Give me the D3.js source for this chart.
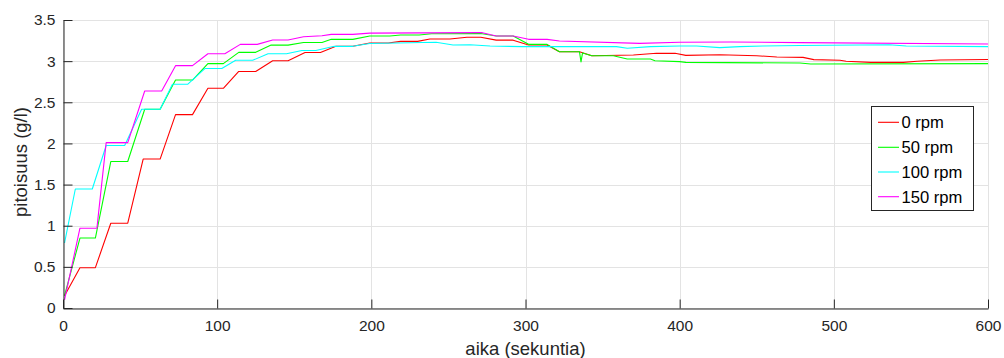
<!DOCTYPE html>
<html>
<head>
<meta charset="utf-8">
<script src="https://cdn.jsdelivr.net/npm/d3@7"></script>
<style>
  html, body { margin: 0; padding: 0; background: #fff; }
  svg { display: block; font-family: "Liberation Sans", Arial, Helvetica, sans-serif; }
</style>
</head>
<body>
<svg id="chart" width="1004" height="358"></svg>
<script>
// ---------- data ----------
const seriesNames = ["0 rpm", "50 rpm", "100 rpm", "150 rpm"];
const seriesColors = ["#ff0000", "#00ff00", "#00ffff", "#ff00ff"];

const t0 = [1, 11, 21, 31, 42, 52, 63, 73, 84, 94, 104, 114, 125, 136, 146, 157, 167, 177, 188, 199, 211, 219, 230, 238, 251, 262, 271, 281, 292, 302, 314, 322, 335, 343, 370, 385, 397, 404, 426, 450, 463, 480, 487, 504, 508, 524, 545, 554, 569, 600];
const c0 = [0.15, 0.49, 0.49, 1.03, 1.03, 1.81, 1.81, 2.35, 2.35, 2.67, 2.67, 2.875, 2.875, 3.005, 3.005, 3.105, 3.105, 3.18, 3.18, 3.22, 3.22, 3.24, 3.24, 3.27, 3.27, 3.29, 3.29, 3.255, 3.255, 3.196, 3.196, 3.115, 3.115, 3.066, 3.075, 3.095, 3.095, 3.07, 3.078, 3.066, 3.05, 3.046, 3.018, 3.01, 2.998, 2.985, 2.985, 2.998, 3.013, 3.02];

const t50 = [1, 11, 21, 31, 42, 53, 63, 73, 84, 94, 104, 114, 125, 135, 146, 156, 168, 174, 188, 199, 212, 219, 231, 239, 271, 281, 292, 302, 314, 322, 335, 336, 337, 343, 357, 366, 381, 384, 400, 404, 478, 485, 600];
const c50 = [0.15, 0.85, 0.85, 1.78, 1.78, 2.415, 2.415, 2.77, 2.77, 2.97, 2.97, 3.107, 3.107, 3.195, 3.195, 3.227, 3.227, 3.265, 3.265, 3.305, 3.305, 3.318, 3.318, 3.333, 3.335, 3.305, 3.305, 3.204, 3.204, 3.115, 3.115, 2.99, 3.10, 3.066, 3.066, 3.026, 3.026, 3.005, 2.994, 2.985, 2.977, 2.965, 2.97];

const t100 = [1, 8, 19, 28, 40, 51, 63, 71, 81, 92, 103, 112, 123, 133, 145, 155, 164, 176, 188, 199, 242, 253, 264, 277, 298, 359, 366, 381, 400, 411, 426, 439, 454, 478, 536, 547, 600];
const c100 = [0.79, 1.446, 1.446, 1.975, 1.975, 2.415, 2.415, 2.72, 2.72, 2.91, 2.91, 3.01, 3.01, 3.09, 3.09, 3.13, 3.13, 3.18, 3.18, 3.215, 3.23, 3.196, 3.2, 3.184, 3.176, 3.176, 3.156, 3.176, 3.184, 3.184, 3.164, 3.176, 3.184, 3.19, 3.2, 3.184, 3.176];

const t150 = [1, 11, 22, 28, 42, 53, 64, 73, 84, 94, 105, 115, 126, 136, 146, 156, 168, 174, 188, 199, 270, 272, 281, 292, 302, 314, 322, 374, 400, 433, 478, 600];
const c150 = [0.1, 0.97, 0.97, 2.01, 2.01, 2.637, 2.637, 2.945, 2.945, 3.09, 3.09, 3.204, 3.204, 3.257, 3.257, 3.297, 3.309, 3.325, 3.325, 3.34, 3.346, 3.346, 3.305, 3.305, 3.265, 3.265, 3.244, 3.216, 3.229, 3.233, 3.225, 3.208];

const xTicks = [0, 100, 200, 300, 400, 500, 600];
const yTicks = [0, 0.5, 1, 1.5, 2, 2.5, 3, 3.5];
const yTickLabels = ["0", "0.5", "1", "1.5", "2", "2.5", "3", "3.5"];
const xLabel = "aika (sekuntia)";
const yLabel = "pitoisuus (g/l)";

// ---------- layout ----------
const svg = d3.select("#chart");
const L = 63, R = 988, T = 20, B = 308;
const x = d3.scaleLinear().domain([0, 600]).range([L, R]);
const y = d3.scaleLinear().domain([0, 3.5]).range([B, T]);

svg.append("rect").attr("width", 1004).attr("height", 358).attr("fill", "#fff");

// grid
const grid = svg.append("g").attr("stroke", "#e3e3e3").attr("stroke-width", 1).attr("shape-rendering", "crispEdges");
grid.selectAll("line.gx").data(xTicks).join("line")
  .attr("x1", d => Math.round(x(d)) + 0.5).attr("x2", d => Math.round(x(d)) + 0.5)
  .attr("y1", T).attr("y2", B);
grid.selectAll("line.gy").data(yTicks).join("line")
  .attr("x1", L).attr("x2", R + 0.5)
  .attr("y1", d => Math.round(y(d)) + 0.5).attr("y2", d => Math.round(y(d)) + 0.5);

// data lines
const series = [[t0, c0], [t50, c50], [t100, c100], [t150, c150]];
const line = d3.line().x(d => x(d[0])).y(d => y(d[1]));
series.forEach((s, i) => {
  const pts = s[0].map((t, k) => [t, s[1][k]]);
  svg.append("path").datum(pts)
    .attr("fill", "none")
    .attr("stroke", seriesColors[i])
    .attr("stroke-width", 1.1)
    .attr("stroke-linejoin", "round")
    .attr("d", line);
});

// axes
const axisColor = "#262626";
const xAxis = d3.axisBottom(x).tickValues(xTicks).tickSizeInner(-9).tickSizeOuter(0).tickPadding(18);
const gx = svg.append("g").attr("transform", `translate(0,${B + 0.5})`).call(xAxis);
const yAxis = d3.axisLeft(y).tickValues(yTicks).tickFormat((d, i) => yTickLabels[i]).tickSizeInner(-9).tickSizeOuter(0).tickPadding(17);
const gy = svg.append("g").attr("transform", `translate(${L + 0.5},0)`).call(yAxis);
[gx, gy].forEach(g => {
  g.select(".domain").attr("stroke", axisColor);
  g.selectAll(".tick line").attr("stroke", axisColor);
  g.selectAll(".tick text").attr("fill", axisColor).attr("font-size", "15.5px")
    .attr("font-family", "'Liberation Sans', Arial, sans-serif");
});
gx.selectAll(".tick text").attr("dy", "0.71em").attr("y", 11);
gy.selectAll(".tick text").attr("x", -8);

// labels
svg.append("text").attr("x", (L + R) / 2).attr("y", 355)
  .attr("text-anchor", "middle").attr("fill", axisColor).attr("font-size", "18.5px")
  .text(xLabel);
svg.append("text").attr("transform", `translate(27,162) rotate(-90)`)
  .attr("text-anchor", "middle").attr("fill", axisColor).attr("font-size", "18.5px")
  .text(yLabel);

// legend
const lg = svg.append("g");
lg.append("rect").attr("x", 871.5).attr("y", 106.5).attr("width", 102).attr("height", 104)
  .attr("fill", "#fff").attr("stroke", axisColor).attr("stroke-width", 1);
const rowY = [122.3, 147.3, 172, 196.7];
seriesNames.forEach((n, i) => {
  lg.append("line").attr("x1", 878).attr("x2", 899).attr("y1", rowY[i]).attr("y2", rowY[i])
    .attr("stroke", seriesColors[i]).attr("stroke-width", 1.1);
  lg.append("text").attr("x", 901.5).attr("y", rowY[i]).attr("dy", "0.36em")
    .attr("font-size", "16.6px").attr("fill", "#000").text(n);
});
</script>
</body>
</html>
